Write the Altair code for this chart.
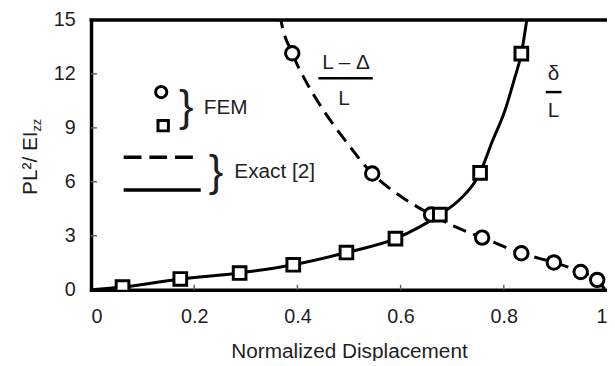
import altair as alt
import pandas as pd

# ---- data ----
# FEM results
circle_x = [0.390, 0.545, 0.659, 0.758, 0.834, 0.897, 0.949, 0.981]
circle_y = [13.15, 6.46, 4.18, 2.90, 2.03, 1.52, 0.99, 0.55]
square_x = [0.061, 0.173, 0.288, 0.392, 0.495, 0.590, 0.676, 0.754, 0.834]
square_y = [0.15, 0.60, 0.93, 1.39, 2.07, 2.84, 4.18, 6.50, 13.13]
# Exact [2] curves
dashed_x = [0.360, 0.368, 0.390, 0.420, 0.450, 0.490, 0.545, 0.600, 0.659,
            0.710, 0.758, 0.834, 0.897, 0.949, 0.981, 0.995, 1.005]
dashed_y = [16.5, 15.0, 13.15, 11.4, 10.0, 8.4, 6.46, 5.2, 4.18,
            3.45, 2.90, 2.03, 1.52, 0.99, 0.55, 0.05, -0.5]
solid_x = [0.0, 0.061, 0.173, 0.288, 0.392, 0.495, 0.590, 0.676, 0.714,
           0.754, 0.777, 0.802, 0.821, 0.834, 0.844, 0.852]
solid_y = [0.0, 0.15, 0.60, 0.93, 1.39, 2.07, 2.84, 4.18, 5.0,
           6.50, 8.2, 9.95, 11.76, 13.13, 14.9, 16.5]
x_ticks = [0, 0.2, 0.4, 0.6, 0.8, 1]
y_ticks = [0, 3, 6, 9, 12, 15]

W, H = 522, 273
FONT = "Liberation Sans"
TXT = "#1e1e1e"

circles = pd.DataFrame({"x": circle_x, "y": circle_y})
squares = pd.DataFrame({"x": square_x, "y": square_y})
dashed = pd.DataFrame({"x": dashed_x, "y": dashed_y})
solid = pd.DataFrame({"x": solid_x, "y": solid_y})
xt = pd.DataFrame({"x": x_ticks[1:-1]})
yt = pd.DataFrame({"y": y_ticks[1:-1]})
one = pd.DataFrame({"k": [0]})

xs = alt.Scale(domain=[0, 1], nice=False, zero=False)
ys = alt.Scale(domain=[0, 15], nice=False, zero=False)
X = alt.X("x:Q", scale=xs, axis=alt.Axis(
    values=x_ticks, format="~g", title="Normalized Displacement",
    titleY=69, titleBaseline="alphabetic", labelPadding=17))
Y = alt.Y("y:Q", scale=ys, axis=alt.Axis(
    values=y_ticks, format="d", title=None, labelPadding=16))

dash_line = alt.Chart(dashed).mark_line(
    clip=True, color="black", strokeWidth=3, strokeDash=[14, 8],
    interpolate="monotone").encode(x=X, y=Y, order="x:Q")
solid_line = alt.Chart(solid).mark_line(
    clip=True, color="black", strokeWidth=3,
    interpolate="monotone").encode(x=X, y=Y, order="x:Q")
circ = alt.Chart(circles).mark_point(
    shape="circle", size=185, filled=False, fill="white", fillOpacity=1,
    stroke="black", strokeWidth=3, opacity=1, clip=True).encode(x=X, y=Y)
sq = alt.Chart(squares).mark_point(
    shape="square", size=165, filled=False, fill="white", fillOpacity=1,
    stroke="black", strokeWidth=3, opacity=1, clip=True).encode(x=X, y=Y)

# inside ticks
xtick = alt.Chart(xt).mark_rule(color="#666", strokeWidth=1.5).encode(
    x=alt.X("x:Q", scale=xs), y=alt.value(H), y2=alt.value(H - 5))
ytick = alt.Chart(yt).mark_rule(color="#666", strokeWidth=1.5).encode(
    y=alt.Y("y:Q", scale=ys), x=alt.value(0), x2=alt.value(6))
top_border = alt.Chart(one).mark_rule(color="black", strokeWidth=3.5).encode(
    x=alt.value(-1.5), x2=alt.value(W), y=alt.value(0))

def txt(s, x, y, size=21, align="left", baseline="middle", angle=0):
    return alt.Chart(one).mark_text(
        text=s, font=FONT, fontSize=size, color=TXT, align=align,
        baseline=baseline, angle=angle).encode(x=alt.value(x), y=alt.value(y))

def hrule(x1, x2, y, width=2.5, dash=None):
    kw = dict(color="black", strokeWidth=width)
    if dash:
        kw["strokeDash"] = dash
    return alt.Chart(one).mark_rule(**kw).encode(
        x=alt.value(x1), x2=alt.value(x2), y=alt.value(y))

def marker(shape, x, y, size):
    return alt.Chart(one).mark_point(
        shape=shape, size=size, filled=False, fill="white", fillOpacity=1,
        stroke="black", strokeWidth=3, opacity=1).encode(
        x=alt.value(x), y=alt.value(y))

legend = [
    marker("circle", 71, 73, 130),
    marker("square", 73, 107, 110),
    txt("}", 89, 89, size=44),
    txt("FEM", 114, 89),
    hrule(33, 104, 139, width=3.5, dash=[18, 8]),
    hrule(33, 111, 172, width=3.5),
    txt("}", 119, 155, size=44),
    txt("Exact [2]", 145, 154),
]
notes = [
    txt("L \u2013 \u0394", 258, 44, align="center"),
    hrule(230, 285, 59, width=2.5),
    txt("L", 256, 80, align="center"),
    txt("\u03b4", 468, 55, align="center"),
    hrule(460, 476, 73, width=2.5),
    txt("L", 468, 92, align="center"),
]
ytitle = [
    txt("PL\u00b2/ EI", -55, 177, size=21, align="left",
        baseline="alphabetic", angle=270),
    txt("zz", -51, 113, size=13, align="left",
        baseline="alphabetic", angle=270),
]

chart = alt.layer(
    dash_line, solid_line, xtick, ytick, top_border, circ, sq,
    *legend, *notes, *ytitle
).properties(
    width=W, height=H,
    autosize=alt.AutoSizeParams(type="none"),
    padding={"left": 84, "top": 10, "right": 0, "bottom": 70},
).configure_view(
    stroke="#c8c8c8", strokeWidth=1
).configure_axis(
    grid=False, ticks=False, tickSize=0, domainColor="black",
    domainWidth=3.5, domainCap="square", labelFont=FONT, labelFontSize=20,
    labelColor=TXT, titleFont=FONT, titleFontSize=21, titleColor=TXT,
    titleFontWeight="normal"
)

chart.save("out.html", embed_options={"renderer": "svg", "actions": False})
